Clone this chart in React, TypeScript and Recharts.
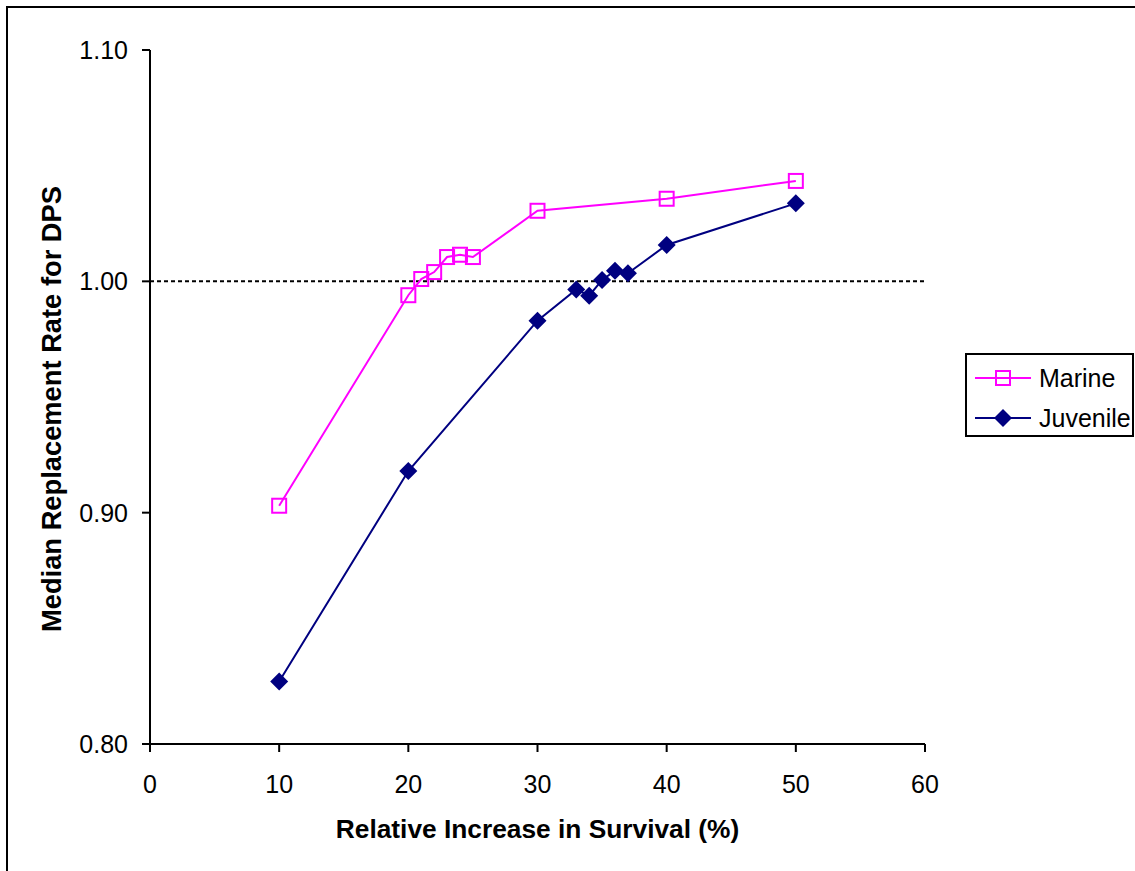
import { Line, LineChart, ReferenceLine, XAxis, YAxis, Label } from "recharts";

const marineX = [10, 20, 21, 22, 23, 24, 25, 30, 40, 50];
const marineY = [0.903, 0.994, 1.001, 1.004, 1.0105, 1.0115, 1.0105, 1.0305, 1.0357, 1.0434];
const juvenileX = [10, 20, 30, 33, 34, 35, 36, 37, 40, 50];
const juvenileY = [0.827, 0.918, 0.983, 0.9965, 0.9938, 1.0006, 1.0046, 1.0035, 1.0157, 1.0337];

const xTicks = [0, 10, 20, 30, 40, 50, 60];
const yTicks = [0.8, 0.9, 1.0, 1.1];
const seriesNames = ["Marine", "Juvenile"];

const MARINE = "#ff00ff";
const JUVENILE = "#000080";
const FONT = "'Liberation Sans', Arial, sans-serif";

const marineData = marineX.map((x, i) => ({ x, y: marineY[i] }));
const juvenileData = juvenileX.map((x, i) => ({ x, y: juvenileY[i] }));

const TICK = { fill: "#000", fontSize: 25, fontFamily: FONT } as const;

function SquareDot(props: any) {
  const { cx, cy, index } = props;
  if (cx == null || cy == null) return null;
  return (
    <rect
      key={`sq-${index}`}
      x={cx - 7}
      y={cy - 7}
      width={14}
      height={14}
      fill="none"
      stroke={MARINE}
      strokeWidth={2}
    />
  );
}

function DiamondDot(props: any) {
  const { cx, cy, index } = props;
  if (cx == null || cy == null) return null;
  const r = 9;
  return (
    <polygon
      key={`dm-${index}`}
      points={`${cx},${cy - r} ${cx + r},${cy} ${cx},${cy + r} ${cx - r},${cy}`}
      fill={JUVENILE}
    />
  );
}

function YTitle(props: any) {
  const vb = props.viewBox || {};
  const x = vb.x + 11;
  const y = vb.y + vb.height / 2 + 12;
  return (
    <text
      x={x}
      y={y}
      transform={`rotate(-90, ${x}, ${y})`}
      textAnchor="middle"
      fontFamily={FONT}
      fontSize={27.3}
      fontWeight="bold"
      fill="#000"
    >
      Median Replacement Rate for DPS
    </text>
  );
}

function LegendBox() {
  const colors = [MARINE, JUVENILE];
  return (
    <div
      style={{
        position: "absolute",
        left: 965,
        top: 353,
        width: 165,
        height: 80,
        border: "2px solid #000",
        background: "#fff",
        fontFamily: FONT,
        fontSize: 25,
      }}
    >
      {seriesNames.map((name, i) => (
        <div
          key={name}
          style={{
            position: "absolute",
            left: 0,
            top: i === 0 ? 8 : 48,
            height: 30,
            display: "flex",
            alignItems: "center",
          }}
        >
          <svg width={72} height={30} style={{ display: "block" }}>
            <line x1={8} x2={64} y1={15} y2={15} stroke={colors[i]} strokeWidth={2} />
            {i === 0 ? (
              <rect x={29} y={8} width={14} height={14} fill="none" stroke={MARINE} strokeWidth={2} />
            ) : (
              <polygon points="36,6 45,15 36,24 27,15" fill={JUVENILE} />
            )}
          </svg>
          <span style={{ whiteSpace: "nowrap", lineHeight: "30px" }}>{name}</span>
        </div>
      ))}
    </div>
  );
}

export default function App() {
  return (
    <div
      style={{
        position: "fixed",
        left: 0,
        top: 0,
        width: 1135,
        height: 871,
        background: "#fff",
        overflow: "hidden",
      }}
    >
      <div
        style={{
          position: "absolute",
          left: 6,
          top: 6,
          width: 1200,
          height: 900,
          border: "2px solid #000",
        }}
      />
      <LineChart
        width={1135}
        height={871}
        margin={{ top: 50, right: 210, bottom: 27, left: 50 }}
        style={{ position: "absolute", left: 0, top: 0 }}
      >
        <XAxis
          type="number"
          dataKey="x"
          domain={[0, 60]}
          ticks={xTicks}
          height={100}
          tick={TICK}
          tickSize={8}
          tickMargin={23}
          axisLine={{ stroke: "#000", strokeWidth: 2 }}
          tickLine={{ stroke: "#000", strokeWidth: 2 }}
          allowDuplicatedCategory={false}
        >
          <Label
            value="Relative Increase in Survival (%)"
            position="insideBottom"
            offset={6}
            style={{ fontFamily: FONT, fontSize: 26.3, fontWeight: "bold", fill: "#000" }}
          />
        </XAxis>
        <YAxis
          type="number"
          dataKey="y"
          domain={[0.8, 1.1]}
          ticks={yTicks}
          width={100}
          tick={TICK}
          tickSize={8}
          tickMargin={14}
          tickFormatter={(v: number) => v.toFixed(2)}
          axisLine={{ stroke: "#000", strokeWidth: 2 }}
          tickLine={{ stroke: "#000", strokeWidth: 2 }}
        >
          <Label content={<YTitle />} />
        </YAxis>
        <ReferenceLine y={1.0} stroke="#000" strokeWidth={2} strokeDasharray="4 3" />
        <Line
          data={marineData}
          dataKey="y"
          name={seriesNames[0]}
          stroke={MARINE}
          strokeWidth={2}
          dot={SquareDot}
          isAnimationActive={false}
        />
        <Line
          data={juvenileData}
          dataKey="y"
          name={seriesNames[1]}
          stroke={JUVENILE}
          strokeWidth={2}
          dot={DiamondDot}
          isAnimationActive={false}
        />
      </LineChart>
      <LegendBox />
    </div>
  );
}
